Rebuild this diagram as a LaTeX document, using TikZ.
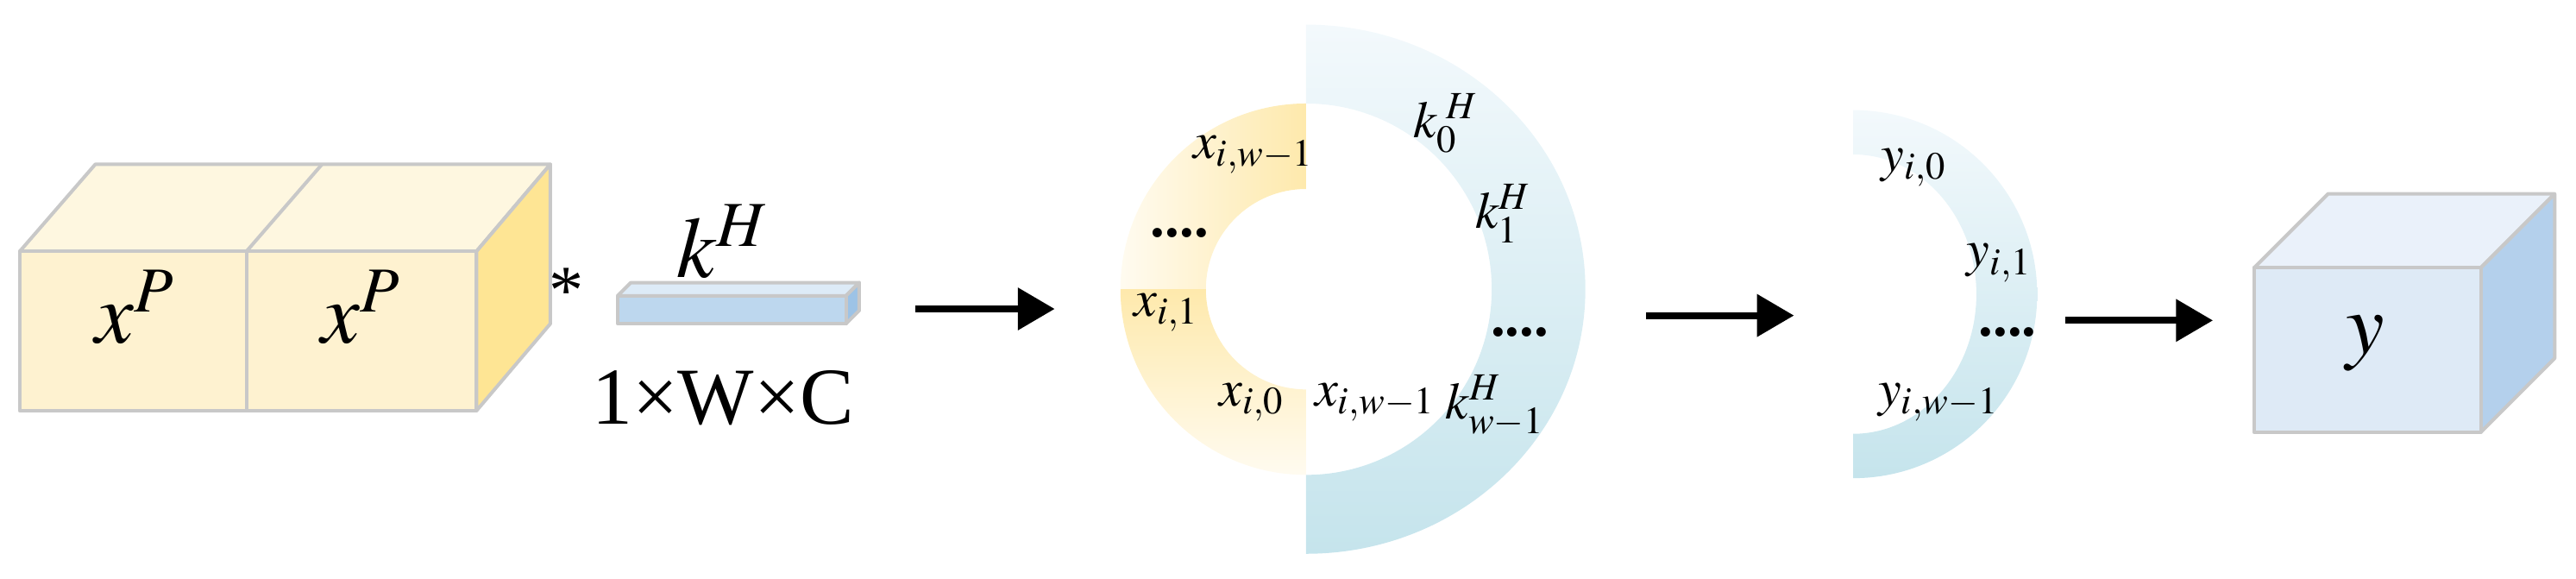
\documentclass[tikz,border=0pt]{standalone}
\usepackage{mathptmx}
\usepackage{fontspec}
\setmainfont{Liberation Serif}
\usetikzlibrary{arrows.meta}
\definecolor{ytop}{HTML}{FEF7E0}
\definecolor{yfront}{HTML}{FEF2D0}
\definecolor{yside}{HTML}{FEE594}
\definecolor{yring}{HTML}{FEE9AC}
\definecolor{ylight}{HTML}{FFFBF0}
\definecolor{bfront}{HTML}{BDD7EE}
\definecolor{btop}{HTML}{DDEBF7}
\definecolor{bside}{HTML}{9DC3E6}
\definecolor{rtop}{HTML}{F3F9FC}
\definecolor{rbot}{HTML}{C5E4EC}
\definecolor{cfront}{HTML}{DEEAF6}
\definecolor{ctop}{HTML}{EAF1FA}
\definecolor{cside}{HTML}{B4D0EC}
\definecolor{edge}{HTML}{C8C8C8}
\tikzset{
  face/.style={draw=edge,line width=1.2pt,line join=round},
  big/.style={font=\fontsize{30}{32}\selectfont\itshape},
  lab/.style={font=\fontsize{18}{20}\selectfont\itshape},
  arr/.style={line width=2.4pt,-{Triangle[length=0.45cm,width=0.5cm]}},
  dots/.style={font=\fontsize{20}{22}\selectfont\bfseries}
}
\begin{document}
\begin{tikzpicture}[x=0.02cm,y=0.02cm]
\useasboundingbox (0,0) rectangle (1568,352);
% left double cube
\fill[ytop,face] (12,199) -- (58,252) -- (335,252) -- (290,199) -- cycle;
\draw[face] (150,199) -- (196,252);
\fill[yside,face] (290,199) -- (335,252) -- (335,155) -- (290,102) -- cycle;
\fill[yfront,face] (12,102) rectangle (290,199);
\draw[face] (150,102) -- (150,199);
\node[big] (xp1) at (82,165) {$x^{P}$};
\node[big] (xp2) at (220,165) {$x^{P}$};
\node[font=\fontsize{24}{26}\selectfont] (ast) at (345,175) {*};
% kernel bar
\fill[btop,face] (376,172) -- (384,180) -- (523,180) -- (515,172) -- cycle;
\fill[bside,face] (515,155) -- (523,163) -- (523,180) -- (515,172) -- cycle;
\fill[bfront,face] (376,155) rectangle (515,172);
\node[big] (kh) at (440,205) {$k^{H}$};
\node[font=\fontsize{28}{30}\selectfont] (dim) at (440,110) {1×W×C};
% arrow 1
\coordinate (a1s) at (557,164); \coordinate (a1e) at (642,164);
\draw[arr] (a1s) -- (a1e);
% yellow half ring
\shade[left color=ylight,right color=yring] (795,289) arc[start angle=90,end angle=180,radius=113] -- (734,176) arc[start angle=180,end angle=90,radius=61] -- cycle;
\shade[top color=yring,bottom color=ylight] (682,176) arc[start angle=180,end angle=270,radius=113] -- (795,115) arc[start angle=270,end angle=180,radius=61] -- cycle;
% blue half ring
\shade[top color=rtop,bottom color=rbot] (795,337) arc[start angle=90,end angle=-90,x radius=170,y radius=161] -- (795,63) arc[start angle=-90,end angle=90,radius=113] -- cycle;
\node[lab] (xw1) at (763,258) {$x_{i,w-1}$};
\node[dots] (d1) at (718,210) {....};
\node[lab] (x1) at (710,162) {$x_{i,1}$};
\node[lab] (x0) at (762,107) {$x_{i,0}$};
\node[lab] (xw2) at (837,107) {$x_{i,w-1}$};
\node[lab] (kw) at (910,105) {$k_{w-1}^{H}$};
\node[lab] (k0) at (880,277) {$k_{0}^{\;H}$};
\node[lab] (k1) at (915,222) {$k_{1}^{H}$};
\node[dots] (d2) at (925,150) {....};
% arrow 2
\coordinate (a2s) at (1002,160); \coordinate (a2e) at (1092,160);
\draw[arr] (a2s) -- (a2e);
% output half ring
\shade[top color=rtop,bottom color=rbot] (1128,285) arc[start angle=90,end angle=-90,radius=112] -- (1128,88) arc[start angle=-90,end angle=90,x radius=75,y radius=85] -- cycle;
\node[lab] (y0) at (1165,250) {$y_{i,0}$};
\node[lab] (y1) at (1217,192) {$y_{i,1}$};
\node[dots] (d3) at (1222,150) {....};
\node[lab] (yw) at (1180,107) {$y_{i,w-1}$};
% arrow 3
\coordinate (a3s) at (1257,157); \coordinate (a3e) at (1347,157);
\draw[arr] (a3s) -- (a3e);
% output cube
\fill[ctop,face] (1372,189) -- (1417,234) -- (1555,234) -- (1510,189) -- cycle;
\fill[cside,face] (1510,189) -- (1555,234) -- (1555,134) -- (1510,89) -- cycle;
\fill[cfront,face] (1372,89) rectangle (1510,189);
\node[big] (yy) at (1440,143) {$y$};
\end{tikzpicture}
\end{document}
